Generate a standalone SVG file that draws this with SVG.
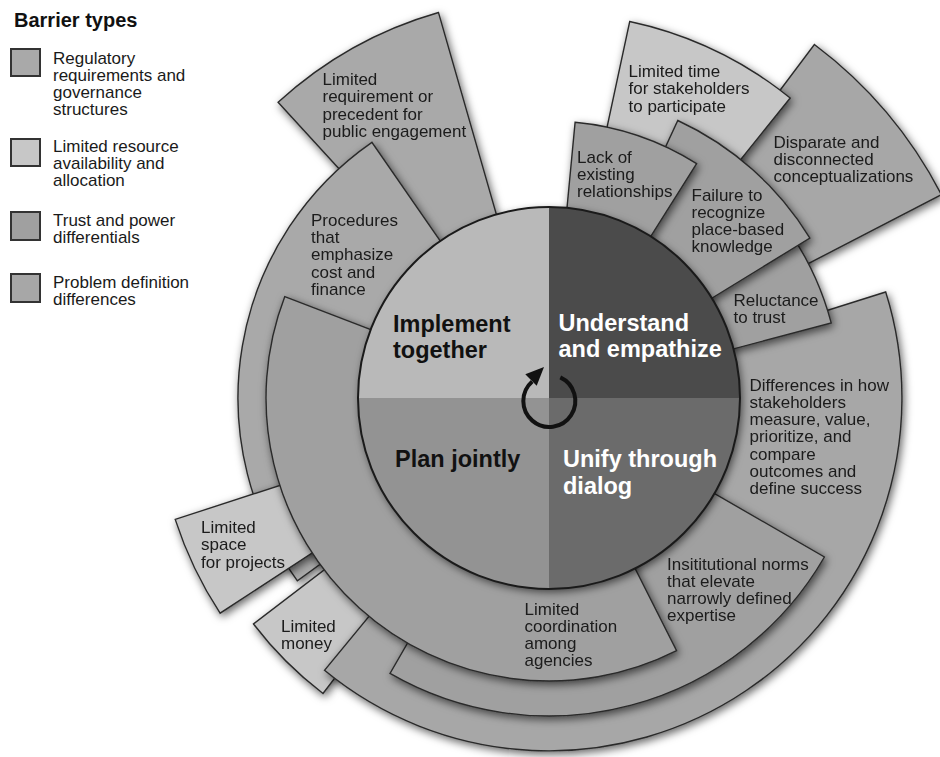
<svg xmlns="http://www.w3.org/2000/svg" width="940" height="757" viewBox="0 0 940 757">
<defs>
<filter id="sh" x="-20%" y="-20%" width="140%" height="140%">
<feDropShadow dx="2" dy="3" stdDeviation="4" flood-color="#000" flood-opacity="0.6"/>
</filter>
</defs>
<style>
.w{stroke:#2a2a2a;stroke-width:1.4;stroke-linejoin:miter}
.reg{fill:#a9a9a9}
.res{fill:#c7c7c7}
.tru{fill:#a0a0a0}
.pro{fill:#a7a7a7}
.t{font-family:"Liberation Sans",Arial,sans-serif;font-size:17px;fill:#1a1a1a}
.q{font-family:"Liberation Sans",Arial,sans-serif;font-size:23.5px;font-weight:bold}
.lg{stroke:#333;stroke-width:2}
</style>
<rect width="940" height="757" fill="#fff"/>

<g id="legend">
<text x="14" y="27" font-family="Liberation Sans, Arial, sans-serif" font-size="20" font-weight="bold" fill="#111">Barrier types</text>
<rect class="lg reg" x="11" y="49" width="29" height="27"/>
<text class="t"><tspan x="53" y="63.5">Regulatory</tspan><tspan x="53" y="80.8">requirements and</tspan><tspan x="53" y="98.1">governance</tspan><tspan x="53" y="115.4">structures</tspan></text>
<rect class="lg res" x="11" y="139" width="29" height="27"/>
<text class="t"><tspan x="53" y="151.5">Limited resource</tspan><tspan x="53" y="168.8">availability and</tspan><tspan x="53" y="186.1">allocation</tspan></text>
<rect class="lg tru" x="11" y="212" width="29" height="28"/>
<text class="t"><tspan x="53" y="225.5">Trust and power</tspan><tspan x="53" y="242.8">differentials</tspan></text>
<rect class="lg pro" x="11" y="274" width="29" height="28"/>
<text class="t"><tspan x="53" y="287.5">Problem definition</tspan><tspan x="53" y="304.8">differences</tspan></text>
</g>

<g id="w-requirement" filter="url(#sh)">
<path class="w reg" d="M549,398 L278.1,102.3 A401,401 0 0 1 438.5,12.5 Z"/>
<text class="t"><tspan x="322.5" y="85">Limited</tspan><tspan x="322.5" y="102.4">requirement or</tspan><tspan x="322.5" y="119.8">precedent for</tspan><tspan x="322.5" y="137.2">public engagement</tspan></text>
</g>

<g id="w-procedures" filter="url(#sh)">
<path class="w reg" d="M549,398 L297.4,580.8 A311,311 0 0 1 371.9,142.3 Z"/>
<text class="t"><tspan x="311" y="225.5">Procedures</tspan><tspan x="311" y="242.9">that</tspan><tspan x="311" y="260.3">emphasize</tspan><tspan x="311" y="277.7">cost and</tspan><tspan x="311" y="295.1">finance</tspan></text>
</g>

<g id="w-space" filter="url(#sh)">
<path class="w res" d="M549,398 L220.1,613.2 A393,393 0 0 1 175.2,519.4 Z"/>
<text class="t"><tspan x="201" y="533">Limited</tspan><tspan x="201" y="550.4">space</tspan><tspan x="201" y="567.8">for projects</tspan></text>
</g>

<g id="w-money" filter="url(#sh)">
<path class="w res" d="M549,398 L323,693.5 A372,372 0 0 1 253.5,624 Z"/>
<text class="t"><tspan x="281" y="631.5">Limited</tspan><tspan x="281" y="648.9">money</tspan></text>
</g>

<g id="w-differences" filter="url(#sh)">
<path class="w pro" d="M549,398 L885.7,292 A353,353 0 0 1 324.5,670.3 Z"/>
<text class="t"><tspan x="749.5" y="390.5">Differences in how</tspan><tspan x="749.5" y="407.8">stakeholders</tspan><tspan x="749.5" y="425.1">measure, value,</tspan><tspan x="749.5" y="442.4">prioritize, and</tspan><tspan x="749.5" y="459.7">compare</tspan><tspan x="749.5" y="477">outcomes and</tspan><tspan x="749.5" y="494.3">define success</tspan></text>
</g>

<g id="w-institutional" filter="url(#sh)">
<path class="w tru" d="M549,398 L824.4,557 A318,318 0 0 1 390,673.4 Z"/>
<text class="t"><tspan x="667" y="569.5">Insititutional norms</tspan><tspan x="667" y="586.8">that elevate</tspan><tspan x="667" y="604.1">narrowly defined</tspan><tspan x="667" y="621.4">expertise</tspan></text>
</g>

<g id="w-coordination" filter="url(#sh)">
<path class="w tru" d="M549,398 L676.6,650.6 A283,283 0 0 1 284.8,296.6 Z"/>
<text class="t"><tspan x="524.5" y="614.5">Limited</tspan><tspan x="524.5" y="631.8">coordination</tspan><tspan x="524.5" y="649.1">among</tspan><tspan x="524.5" y="666.4">agencies</tspan></text>
</g>

<g id="w-disparate" filter="url(#sh)">
<path class="w pro" d="M549,398 L814.4,44.5 A442,442 0 0 1 941.4,194.6 Z"/>
<text class="t"><tspan x="773.5" y="147.5">Disparate and</tspan><tspan x="773.5" y="164.8">disconnected</tspan><tspan x="773.5" y="182.1">conceptualizations</tspan></text>
</g>

<g id="w-time" filter="url(#sh)">
<path class="w res" d="M549,398 L629.7,21.5 A385,385 0 0 1 790.2,98 Z"/>
<text class="t"><tspan x="628.5" y="77">Limited time</tspan><tspan x="628.5" y="94.3">for stakeholders</tspan><tspan x="628.5" y="111.6">to participate</tspan></text>
</g>

<g id="w-reluctance" filter="url(#sh)">
<path class="w tru" d="M549,398 L755.5,191.5 A292,292 0 0 1 831.2,322.9 Z"/>
<text class="t"><tspan x="733.5" y="306">Reluctance</tspan><tspan x="733.5" y="323.3">to trust</tspan></text>
</g>

<g id="w-failure" filter="url(#sh)">
<path class="w tru" d="M549,398 L677.8,120.5 A306,306 0 0 1 809.9,238.1 Z"/>
<text class="t"><tspan x="691.5" y="200.5">Failure to</tspan><tspan x="691.5" y="217.8">recognize</tspan><tspan x="691.5" y="235.1">place-based</tspan><tspan x="691.5" y="252.4">knowledge</tspan></text>
</g>

<g id="w-lack" filter="url(#sh)">
<path class="w tru" d="M549,398 L575.1,122.2 A277,277 0 0 1 696.6,163.6 Z"/>
<text class="t"><tspan x="577" y="162.5">Lack of</tspan><tspan x="577" y="179.8">existing</tspan><tspan x="577" y="197.1">relationships</tspan></text>
</g>

<g id="hub" filter="url(#sh)">
<circle cx="549" cy="398" r="191" fill="#888"/>
</g>
<g id="q-implement">
<path d="M549,398 L549,207 A191,191 0 0 0 358,398 Z" fill="#b9b9b9"/>
<text class="q" fill="#111"><tspan x="393" y="331.5">Implement</tspan><tspan x="393" y="357.5">together</tspan></text>
</g>
<g id="q-understand">
<path d="M549,398 L549,207 A191,191 0 0 1 740,398 Z" fill="#4b4b4b"/>
<text class="q" fill="#fff"><tspan x="558.5" y="330.5">Understand</tspan><tspan x="558.5" y="356.5">and empathize</tspan></text>
</g>
<g id="q-unify">
<path d="M549,398 L740,398 A191,191 0 0 1 549,589 Z" fill="#6b6b6b"/>
<text class="q" fill="#fff"><tspan x="563" y="467">Unify through</tspan><tspan x="563" y="493.5">dialog</tspan></text>
</g>
<g id="q-plan">
<path d="M549,398 L549,589 A191,191 0 0 1 358,398 Z" fill="#939393"/>
<text class="q" fill="#111"><tspan x="395" y="467">Plan jointly</tspan></text>
</g>
<circle cx="549" cy="398" r="191" fill="none" stroke="#1a1a1a" stroke-width="2"/>

<g id="connectors">
<path d="M560.3,377.4 A26,26 0 1 1 532.2,381.4" fill="none" stroke="#111" stroke-width="4"/>
<polygon points="544,367 525.3,374.3 536.7,385.7" fill="#111"/>
</g>
</svg>
